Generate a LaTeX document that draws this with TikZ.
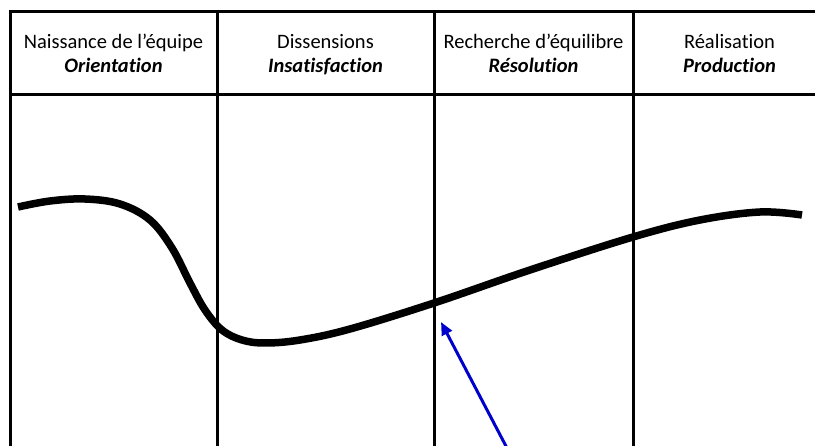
\documentclass[tikz,border=0pt]{standalone}
\usepackage{fontspec}
\setmainfont{Carlito}[Ligatures={NoCommon}]
\usetikzlibrary{arrows.meta}
\definecolor{arrowblue}{RGB}{0,0,204}
\tikzset{
  grid/.style={line width=3pt, black},
  headtxt/.style={anchor=base, font=\fontsize{20.5}{24}\selectfont, inner sep=0pt},
  subtxt/.style={anchor=base, font=\fontsize{20.5}{24}\selectfont\bfseries\itshape, inner sep=0pt},
  curve/.style={line width=7.5pt, black, line cap=butt},
  pointer/.style={line width=3pt, arrowblue, -{Triangle[length=13pt,width=11pt]}}
}
\begin{document}
\begin{tikzpicture}[x=1pt,y=-1pt]
\useasboundingbox (0,0) rectangle (815,446);
\clip (0,0) rectangle (815,446);
% grid lines
\draw[grid] (10,12) -- (830,12);
\draw[grid] (10,95) -- (830,95);
\draw[grid] (10,10.5) -- (10,450);
\draw[grid] (217,10.5) -- (217,450);
\draw[grid] (434,10.5) -- (434,450);
\draw[grid] (633,10.5) -- (633,450);
% header texts
\node[headtxt] (h1) at (113.5,49) {Naissance de l’équipe};
\node[subtxt]  (s1) at (113.5,73) {Orientation};
\node[headtxt] (h2) at (325.5,49) {Dissensions};
\node[subtxt]  (s2) at (325.5,73) {Insatisfaction};
\node[headtxt] (h3) at (533.5,49) {Recherche d’équilibre};
\node[subtxt]  (s3) at (533.5,73) {Résolution};
\node[headtxt] (h4) at (729.5,49) {Réalisation};
\node[subtxt]  (s4) at (729.5,73) {Production};
% curve
\draw[curve] plot[smooth, tension=0.6] coordinates {
  (18,207) (50,201) (85,199) (120,204) (150,220) (172,248) (190,283)
  (205,310) (222,330) (242,340) (265,343) (300,340) (350,329)
  (434,303) (530,270) (633,237) (700,220) (760,212) (802,215)};
% arrow
\coordinate (a0) at (508,450);
\coordinate (a1) at (441,322);
\draw[pointer] (a0) -- (a1);
\end{tikzpicture}
\end{document}
